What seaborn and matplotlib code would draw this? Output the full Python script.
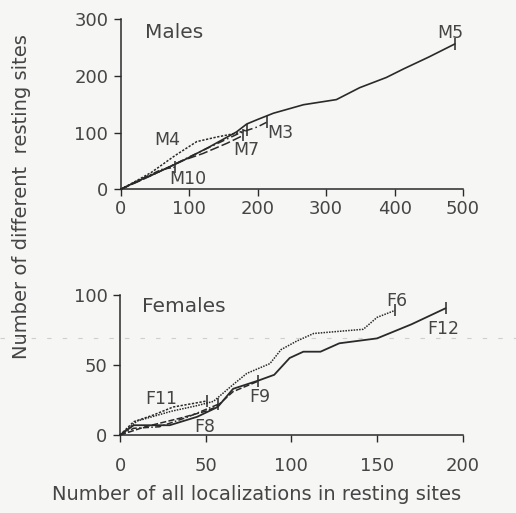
import matplotlib
matplotlib.use("Agg")
import matplotlib.pyplot as plt
import seaborn as sns
import pandas as pd

# ---------------- data ----------------
# Males
m5_x = [0, 20, 45, 90, 130, 160, 169, 184, 200, 223, 267, 315, 349, 388, 413, 450, 488]
m5_y = [0, 12, 25, 50, 75, 95, 101, 115, 123, 134, 149, 158, 179, 197, 212, 233, 256]
m3_x = [0, 25, 60, 100, 140, 170, 185, 200, 213]
m3_y = [0, 14, 33, 57, 80, 97, 104, 110, 118]
m7_x = [0, 30, 60, 91, 120, 155, 179]
m7_y = [0, 16, 33, 51, 63, 81, 95]
m4_x = [0, 20, 45, 80, 111, 140, 170, 184]
m4_y = [0, 13, 30, 60, 84, 92, 99, 105]
m10_x = [0, 20, 40, 60, 79]
m10_y = [0, 12, 24, 35, 39]

# Females
f12_x = [0, 8, 29, 45, 57, 66, 81, 90, 99, 107, 117, 128, 150, 170, 190]
f12_y = [0, 7, 7, 13, 20, 33, 39, 43, 55, 59.5, 59.5, 65.5, 69, 79, 90.5]
f6_x = [0, 10, 30, 45, 54.5, 66, 74, 87.5, 94, 103, 113, 142, 150, 160.5]
f6_y = [0, 10, 17, 21, 24, 36, 44, 51, 61, 67, 72.5, 75.5, 84, 89]
f9_x = [0, 15, 35, 50, 56, 66, 80.7]
f9_y = [0, 6, 12, 17, 20, 31, 38.5]
f11_x = [0, 8, 19.5, 31, 43, 50.6]
f11_y = [0, 9.5, 14.3, 20, 22.6, 24.3]
f8_x = [0, 8, 23, 39, 57.4]
f8_y = [0, 4.8, 5.9, 12.6, 22]

male_ticks = [0, 100, 200, 300, 400, 500]
male_yticks = [0, 100, 200, 300]
female_ticks = [0, 50, 100, 150, 200]
female_yticks = [0, 50, 100]

xlabel = "Number of all localizations in resting sites"
ylabel = "Number of different  resting sites"

# ---------------- style ----------------
sns.set_style("ticks")
plt.rcParams['font.family'] = ['DejaVu Sans']
INK = "#2a2a2a"
TXT = "#454545"
BG = "#f6f6f4"
plt.rcParams.update({
    "axes.edgecolor": INK, "xtick.color": INK, "ytick.color": INK,
    "xtick.labelcolor": TXT, "ytick.labelcolor": TXT,
    "axes.linewidth": 1.1, "xtick.major.width": 1.0, "ytick.major.width": 1.0,
    "xtick.major.size": 5, "ytick.major.size": 5,
})

fig = plt.figure(figsize=(5.16, 5.13), dpi=100, facecolor=BG)
ax1 = fig.add_axes([0.234, 0.631, 0.6634, 0.332])
ax2 = fig.add_axes([0.2326, 0.152, 0.6641, 0.273])
for ax in (ax1, ax2):
    ax.set_facecolor("none")


def draw(ax, xs, ys, ls, lw=1.1):
    df = pd.DataFrame({"x": xs, "y": ys})
    sns.lineplot(data=df, x="x", y="y", ax=ax, color=INK, linestyle=ls,
                 linewidth=lw, sort=False, estimator=None, clip_on=False)
    sns.scatterplot(x=[xs[-1]], y=[ys[-1]], ax=ax, marker="|", s=70,
                    linewidth=1.1, color=INK, clip_on=False)


draw(ax1, m5_x, m5_y, "-", 1.2)
draw(ax1, m3_x, m3_y, (0, (5, 2, 1, 2)))
draw(ax1, m7_x, m7_y, (0, (6, 2)))
draw(ax1, m4_x, m4_y, (0, (1.5, 1)))
draw(ax1, m10_x, m10_y, (0, (4, 1.5, 1, 1.5)))

draw(ax2, f12_x, f12_y, "-", 1.3)
draw(ax2, f6_x, f6_y, (0, (1, 0.8)))
draw(ax2, f9_x, f9_y, (0, (4, 1.5)))
draw(ax2, f11_x, f11_y, (0, (1.5, 1)))
draw(ax2, f8_x, f8_y, (0, (4, 1.5, 1, 1.5)))

ax1.set_xlim(0, 500)
ax1.set_ylim(0, 300)
ax1.set_xticks(male_ticks)
ax1.set_yticks(male_yticks)
ax2.set_xlim(0, 200)
ax2.set_ylim(0, 100)
ax2.set_xticks(female_ticks)
ax2.set_yticks(female_yticks)

for ax in (ax1, ax2):
    sns.despine(ax=ax)
    ax.set_xlabel("")
    ax.set_ylabel("")
    ax.tick_params(axis="both", labelsize=13, direction="out")
    ax.tick_params(axis="y", pad=4)
ax1.tick_params(axis="x", pad=3)
ax2.tick_params(axis="x", pad=11)

# Labels
ax1.text(35, 277, "Males", fontsize=14.5, color=TXT, ha="left", va="center")
lab = dict(fontsize=12.5, color=TXT, ha="center", va="center")
ax1.text(482, 276, "M5", **lab)
ax1.text(68, 86, "M4", **lab)
ax1.text(233, 99, "M3", **lab)
ax1.text(183, 69, "M7", **lab)
ax1.text(98, 18, "M10", **lab)

ax2.text(12.6, 91.6, "Females", fontsize=14.5, color=TXT, ha="left", va="center")
ax2.text(161.7, 95.7, "F6", **lab)
ax2.text(188.5, 75.7, "F12", **lab)
ax2.text(24.3, 25.7, "F11", **lab)
ax2.text(81.7, 27.4, "F9", **lab)
ax2.text(49.6, 6, "F8", **lab)

fig.text(22 / 516, 1 - 197 / 513, ylabel, rotation=90, fontsize=14,
         color=TXT, ha="center", va="center")
fig.text(257 / 516, 1 - 494 / 513, xlabel, fontsize=14,
         color=TXT, ha="center", va="center")

# faint scan fold line
fig.add_artist(plt.Line2D([0, 1], [1 - 338 / 513, 1 - 338 / 513],
                          transform=fig.transFigure, color="#cfcfcf",
                          linewidth=0.8, linestyle=(0, (4, 10)), zorder=0))

fig.savefig("out.png", dpi=100, facecolor=BG)
